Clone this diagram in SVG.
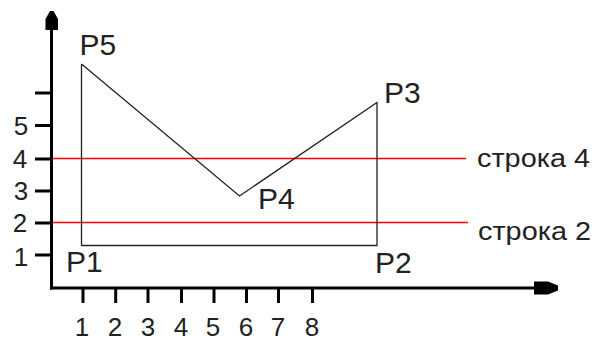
<svg xmlns="http://www.w3.org/2000/svg" width="600" height="341" viewBox="0 0 600 341">
<style>
.ax{stroke:#000;stroke-width:3;fill:none}
.tk{stroke:#000;stroke-width:3}
.poly{stroke:#222;stroke-width:1.3;fill:none}
.red{stroke:#ff0000;stroke-width:1.6}
.num{font-family:"Liberation Sans",Arial,sans-serif;font-size:26px;fill:#222;text-anchor:middle}
.pl{font-family:"Liberation Sans",Arial,sans-serif;font-size:30px;fill:#222}
.row{font-family:"Liberation Sans",Arial,sans-serif;font-size:25px;fill:#222}
</style>
<rect width="600" height="341" fill="#fff"/>
<g id="axes">
<line class="ax" x1="51.5" y1="289.5" x2="51.5" y2="28"/>
<line class="ax" x1="50" y1="288" x2="536" y2="288"/>
<polygon points="50,11 53.5,11 58,19 58,30 45.5,30 45.5,19" fill="#000"/>
<polygon points="534,281.5 548,281.5 558,285.5 558,290.5 548,294.5 534,294.5" fill="#000"/>
<g id="yticks">
<line class="tk" x1="35" y1="93" x2="51" y2="93"/>
<line class="tk" x1="35" y1="125.5" x2="51" y2="125.5"/>
<line class="tk" x1="35" y1="159" x2="51" y2="159"/>
<line class="tk" x1="35" y1="191" x2="51" y2="191"/>
<line class="tk" x1="35" y1="223" x2="51" y2="223"/>
<line class="tk" x1="35" y1="255" x2="51" y2="255"/>
</g>
<g id="xticks">
<line class="tk" x1="83" y1="288" x2="83" y2="303"/>
<line class="tk" x1="115.7" y1="288" x2="115.7" y2="303"/>
<line class="tk" x1="148" y1="288" x2="148" y2="303"/>
<line class="tk" x1="181.5" y1="288" x2="181.5" y2="303"/>
<line class="tk" x1="214" y1="288" x2="214" y2="303"/>
<line class="tk" x1="246.5" y1="288" x2="246.5" y2="303"/>
<line class="tk" x1="278.5" y1="288" x2="278.5" y2="303"/>
<line class="tk" x1="312.5" y1="288" x2="312.5" y2="303"/>
</g>
<g id="ylabels">
<text class="num" x="21" y="135">5</text>
<text class="num" x="20" y="168">4</text>
<text class="num" x="21" y="200">3</text>
<text class="num" x="20" y="232">2</text>
<text class="num" x="21" y="266">1</text>
</g>
<g id="xlabels">
<text class="num" x="82" y="336">1</text>
<text class="num" x="115" y="336">2</text>
<text class="num" x="148" y="336">3</text>
<text class="num" x="181" y="336">4</text>
<text class="num" x="213" y="336">5</text>
<text class="num" x="246" y="336">6</text>
<text class="num" x="278" y="336">7</text>
<text class="num" x="312" y="336">8</text>
</g>
</g>
<g id="rows">
<line class="red" x1="53" y1="158.5" x2="466" y2="158.5"/>
<line class="red" x1="53" y1="222.5" x2="468" y2="222.5"/>
<text id="row4" class="row" x="477" y="167" textLength="113" lengthAdjust="spacingAndGlyphs">строка 4</text>
<text id="row2" class="row" x="478" y="240" textLength="113" lengthAdjust="spacingAndGlyphs">строка 2</text>
</g>
<g id="connectors">
<polyline class="poly" points="81.5,64 239.5,196 377,102.5 377,245.5 81.5,245.5 81.5,64"/>
</g>
<g id="P5"><text class="pl" x="79.5" y="55">P5</text></g>
<g id="P1"><text class="pl" x="66" y="271.5">P1</text></g>
<g id="P4"><text class="pl" x="258" y="209">P4</text></g>
<g id="P3"><text class="pl" x="384" y="103">P3</text></g>
<g id="P2"><text class="pl" x="375" y="273">P2</text></g>
</svg>
